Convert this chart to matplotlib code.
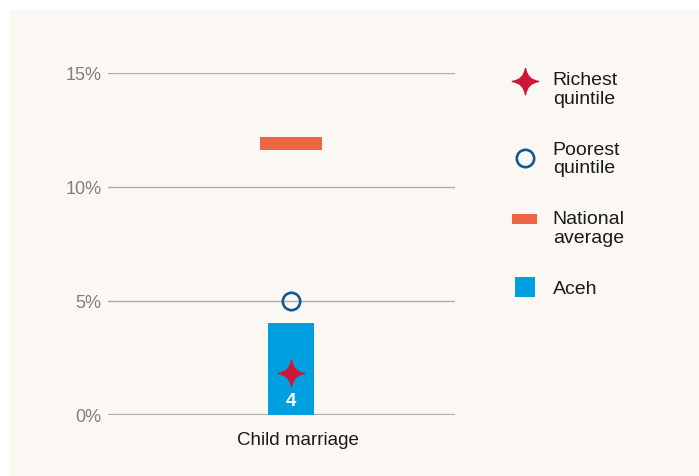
import matplotlib
matplotlib.use('Agg')
import numpy as np
import matplotlib.pyplot as plt
import matplotlib.transforms as mtransforms
from matplotlib.path import Path
from matplotlib.lines import Line2D
from matplotlib.patches import Rectangle
from matplotlib.legend_handler import HandlerLine2D

# ---- data ----
categories = ['Child marriage']
aceh = [4]
national = [11.9]
richest = [1.8]
poorest = [5.0]
yticks = [0, 5, 10, 15]
ytick_labels = ['0%', '5%', '10%', '15%']
legend_labels = ['Richest\nquintile', 'Poorest\nquintile', 'National\naverage', 'Aceh']

# ---- style ----
C_BAR = '#009FDF'
C_NAT = '#EE6543'
C_RICH = '#CC1836'
C_POOR = '#0F5A96'
C_GRID = '#ADADAD'
C_BG = '#FBF8F4'

plt.rcParams['font.family'] = ['Liberation Sans', 'DejaVu Sans']

# four-pointed star marker
star = Path(
    [(0, 1), (0.12, 0.12), (1, 0), (0.12, -0.12), (0, -1),
     (-0.12, -0.12), (-1, 0), (-0.12, 0.12), (0, 1)],
    [Path.MOVETO, Path.CURVE3, Path.CURVE3, Path.CURVE3, Path.CURVE3,
     Path.CURVE3, Path.CURVE3, Path.CURVE3, Path.CURVE3])


class ShiftedLine(HandlerLine2D):
    def __init__(self, dy, **kw):
        super().__init__(**kw)
        self.dy = dy

    def create_artists(self, legend, orig_handle, xdescent, ydescent,
                       width, height, fontsize, trans):
        artists = super().create_artists(legend, orig_handle, xdescent, ydescent,
                                         width, height, fontsize, trans)
        for a in artists:
            a.set_ydata(np.asarray(a.get_ydata(), dtype=float) + self.dy)
        return artists


W, H = 699, 477
fig = plt.figure(figsize=(W / 100, H / 100), dpi=100)
fig.patch.set_facecolor('white')
fig.patches.append(Rectangle((9 / W, 0), 1, 1 - 11 / H, transform=fig.transFigure,
                             facecolor=C_BG, edgecolor='none', zorder=-10))

ax = fig.add_axes([108 / W, 1 - 415.5 / H, 347 / W, 342 / H])
ax.set_facecolor('none')
ax.set_zorder(1)
x = list(range(len(categories)))

for y in yticks:
    ax.axhline(y, color=C_GRID, lw=1.6 if y == 0 else 1.0, zorder=1)

ax.bar(x, aceh, width=0.1326, color=C_BAR, zorder=2)
nat_h = 0.57
ax.bar(x, [nat_h] * len(x), bottom=[v - nat_h / 2 for v in national],
       width=0.179, color=C_NAT, zorder=2)
ax.plot(x, poorest, ls='none', marker='o', ms=12.5, mfc='none', mec=C_POOR,
        mew=1.9, zorder=3, clip_on=False)
ax.plot(x, richest, ls='none', marker=star, ms=19, color=C_RICH, zorder=4)

for xi, v in zip(x, aceh):
    ax.annotate(f'{v:g}', xy=(xi, 0), xytext=(0, 4), textcoords='offset points',
                ha='center', va='bottom', color='white', fontsize=13.5,
                fontweight='bold', zorder=5)

ax.set_xlim(-0.5274, 0.4726)
ax.set_ylim(0, 15)
ax.set_yticks(yticks)
ax.set_yticklabels(ytick_labels)
ax.set_xticks(x)
ax.set_xticklabels(categories)
ax.tick_params(axis='y', length=0, pad=4.5, labelsize=13, labelcolor='#7F7F7F')
ax.tick_params(axis='x', length=0, pad=12, labelsize=13.5, labelcolor='#1A1A1A')
off = mtransforms.ScaledTranslation(7 / 100, 0, fig.dpi_scale_trans)
for lab in ax.get_xticklabels():
    lab.set_transform(lab.get_transform() + off)
    lab.set_family(['Liberation Sans Narrow', 'Liberation Sans'])
for s in ax.spines.values():
    s.set_visible(False)

handles = [
    Line2D([], [], ls='none', marker=star, ms=19, color=C_RICH),
    Line2D([], [], ls='none', marker='o', ms=12.5, mfc='none', mec=C_POOR, mew=1.9),
    Line2D([], [], color=C_NAT, lw=7.2, solid_capstyle='butt'),
    Line2D([], [], ls='none', marker='s', ms=15, color=C_BAR, mew=0),
]
leg = fig.legend(handles, legend_labels, loc='upper left',
                 bbox_to_anchor=(512 / W, 1 - 72 / H), frameon=False,
                 fontsize=14, handlelength=1.29, handletextpad=0.8,
                 labelspacing=1.75, borderpad=0, borderaxespad=0,
                 handler_map={handles[0]: ShiftedLine(5.5),
                              handles[2]: ShiftedLine(6.0)})
for t in leg.get_texts():
    t.set_color('#1A1A1A')
    t.set_linespacing(1.12)

fig.savefig('out.png', dpi=100, facecolor=fig.get_facecolor())
